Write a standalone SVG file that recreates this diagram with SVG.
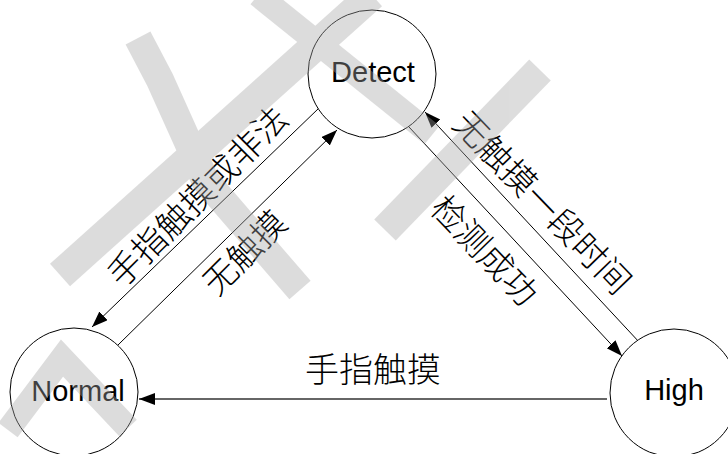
<svg xmlns="http://www.w3.org/2000/svg" width="728" height="454" viewBox="0 0 728 454">
  <defs>
    <style>
      .node { fill: #ffffff; stroke: #000000; stroke-width: 1; }
      .lbl { font-family: "Liberation Sans", Arial, sans-serif; font-size: 29px; fill: #000000; text-anchor: middle; }
      .cn { font-family: "Noto Sans CJK SC", sans-serif; font-size: 34px; font-weight: 300; fill: #000000; text-anchor: middle; }
      .edge { stroke: #000000; stroke-width: 1; fill: none; marker-end: url(#arrow); }
      .wm { fill: none; stroke: #a6a6a6; stroke-linecap: butt; stroke-linejoin: miter; }
    </style>
    <marker id="arrow" markerUnits="userSpaceOnUse" markerWidth="17" markerHeight="13" refX="16" refY="6" orient="auto">
      <path d="M0,0 L16,6 L0,12 Z" fill="#000000"/>
    </marker>
  </defs>
  <rect width="728" height="454" fill="#ffffff"/>

  <g id="edges">
    <line class="edge" x1="319" y1="108" x2="92" y2="327"/>
    <line class="edge" x1="118" y1="345" x2="337" y2="130"/>
    <line class="edge" x1="409" y1="127" x2="622" y2="356"/>
    <line class="edge" x1="640" y1="343" x2="425" y2="112"/>
    <line class="edge" x1="607" y1="399" x2="139" y2="399" style="stroke:#333333;stroke-width:1.5"/>
    <g id="edge-labels">
      <text class="cn" transform="translate(197,196) rotate(-45)" y="13">手指触摸或非法</text>
      <text class="cn" transform="translate(244,252) rotate(-45)" y="13">无触摸</text>
      <text class="cn" transform="translate(485,250) rotate(46)" y="13">检测成功</text>
      <text class="cn" transform="translate(543,202) rotate(46)" y="13">无触摸一段时间</text>
      <text class="cn" x="373" y="382">手指触摸</text>
    </g>
  </g>

  <g id="node-detect">
    <circle class="node" cx="372" cy="74" r="64"/>
    <text class="lbl" x="373" y="82">Detect</text>
  </g>
  <g id="node-normal">
    <circle class="node" cx="74" cy="392" r="64"/>
    <text class="lbl" x="78" y="401">Normal</text>
  </g>
  <g id="node-high">
    <circle class="node" cx="674" cy="393" r="64"/>
    <text class="lbl" x="674" y="400">High</text>
  </g>

  <g id="watermark" opacity="0.38">
    <path class="wm" stroke-width="28" d="M138,38 L160,80 L205,180 L300,290"/>
    <path class="wm" stroke-width="30" d="M372,-5 L60,275"/>
    <path class="wm" stroke-width="24" d="M258,-5 L432,135"/>
    <path class="wm" stroke-width="24" d="M8,430 L62,358 L128,428"/>
    <path class="wm" stroke-width="30" d="M540,70 L385,230"/>
  </g>
</svg>
